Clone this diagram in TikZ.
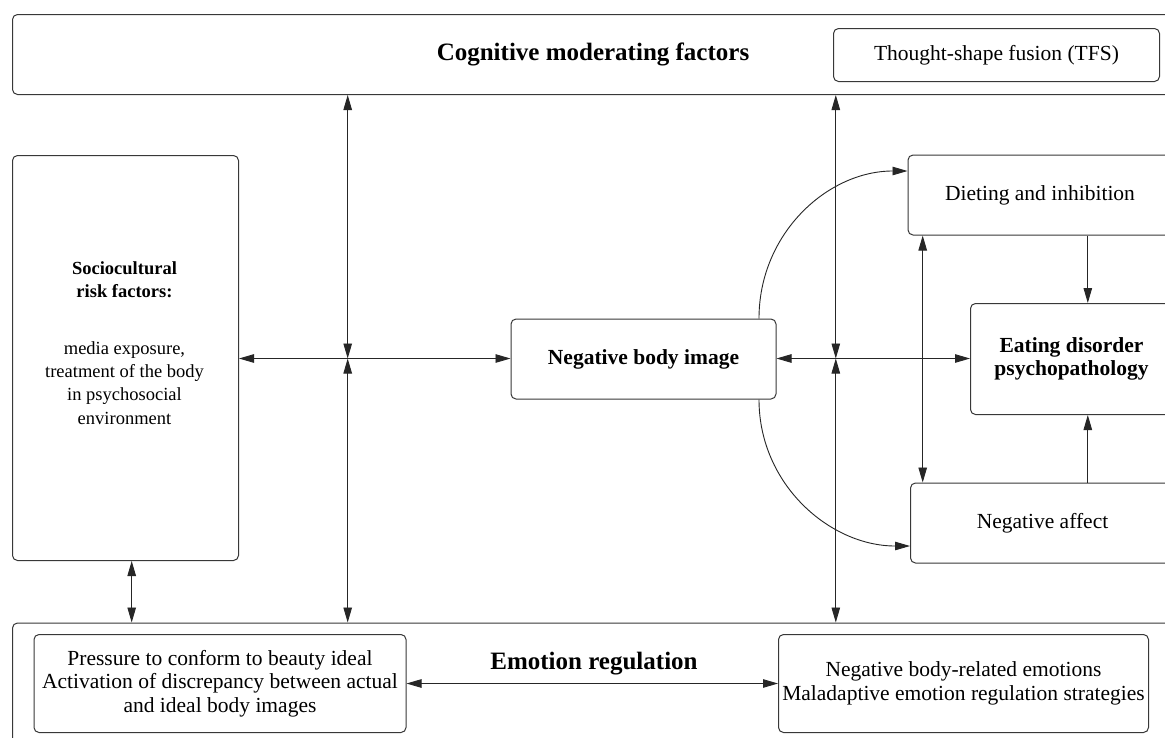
\documentclass[tikz,border=0pt]{standalone}
\usepackage{fontspec}
\setmainfont{Liberation Serif}
\usetikzlibrary{arrows.meta,calc}
\begin{document}
\begin{tikzpicture}[x=1pt,y=-1pt,
  box/.style={draw=black!78, line width=1pt, rounded corners=5pt, inner sep=0pt, anchor=north west, align=center, font=\fontsize{21.5}{23.5}\selectfont},
  conn/.style={draw=black!85, line width=0.9pt},
  >={Triangle[length=15pt,width=8.5pt]},
  title/.style={font=\fontsize{25}{28}\selectfont\bfseries, inner sep=0pt},
  soctxt/.style={font=\fontsize{18.5}{23.3}\selectfont, align=center, inner sep=0pt}
]
\useasboundingbox (0,0) rectangle (1165,737);
\fill[white] (0,0) rectangle (1165,737);
\clip (0,0) rectangle (1165,737);

% boxes
\node[box, minimum width=1162pt, minimum height=80pt] (cog) at (12,14) {};
\node[title] (cogt) at (593,54) {Cognitive moderating factors};
\node[box, minimum width=326pt, minimum height=53pt] (tfs) at (833,28) {Thought-shape fusion (TFS)};
\node[box, minimum width=226pt, minimum height=405pt] (soc) at (12,155) {};
\node[soctxt] (soct) at (124.5,343) {\textbf{Sociocultural}\\\textbf{risk factors:}\\[33pt]media exposure,\\treatment of the body\\in psychosocial\\environment};
\node[box, minimum width=265pt, minimum height=80pt] (nbi) at (510.5,318.5) {\textbf{Negative body image}};
\node[box, minimum width=264pt, minimum height=80pt] (diet) at (907.5,154.5) {Dieting and inhibition};
\node[box, minimum width=202pt, minimum height=111pt] (ed) at (970,303) {\textbf{Eating disorder}\\\textbf{psychopathology}};
\node[box, minimum width=264pt, minimum height=80pt] (naff) at (910,482.5) {Negative affect};
\node[box, minimum width=1162pt, minimum height=150pt] (emo) at (12,622.5) {};
\node[title] (emot) at (594,664) {Emotion regulation};
\node[box, minimum width=372pt, minimum height=98pt] (press) at (33.5,634) {Pressure to conform to beauty ideal\\Activation of discrepancy between actual\\and ideal body images};
\node[box, minimum width=370pt, minimum height=98pt] (negemo) at (778,634) {Negative body-related emotions\\Maladaptive emotion regulation strategies};

% helper coordinates
\coordinate (j1) at (347.7,358.5);
\coordinate (j2) at (835.8,358.5);
\coordinate (x131) at (131.7,0);
\coordinate (x922) at (922.7,0);
\coordinate (x1088) at (1087.8,0);
\coordinate (c1) at (759,0);

% connectors
\draw[conn,<->] (soc.east |- j1) -- (nbi.west |- j1);
\draw[conn,<->] (cog.south -| j1) -- (j1);
\draw[conn,<->] (j1) -- (emo.north -| j1);
\draw[conn,<->] (nbi.east |- j2) -- (ed.west |- j2);
\draw[conn,<->] (cog.south -| j2) -- (j2);
\draw[conn,<->] (j2) -- (emo.north -| j2);
\draw[conn,<->] (soc.south -| x131) -- (emo.north -| x131);
\draw[conn,<->] (diet.south -| x922) -- (naff.north -| x922);
\draw[conn,->] (diet.south -| x1088) -- (ed.north -| x1088);
\draw[conn,->] (naff.north -| x1088) -- (ed.south -| x1088);
\draw[conn,<->] (press.east) -- (negemo.west);
\draw[conn,->] (nbi.north -| c1) .. controls +(0,-85) and +(-80,0) .. ([yshift=24pt]diet.west);
\draw[conn,->] (nbi.south -| c1) .. controls +(0,85) and +(-80,0) .. ([yshift=-23pt]naff.west);
\end{tikzpicture}
\end{document}
